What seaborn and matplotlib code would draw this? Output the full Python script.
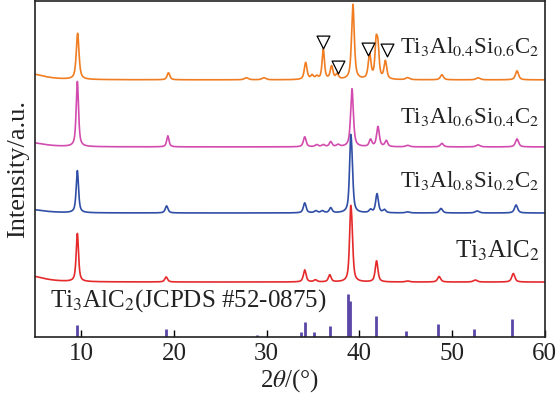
import numpy as np
import pandas as pd
import matplotlib
matplotlib.use("Agg")
import matplotlib.pyplot as plt
import seaborn as sns

# peak lists: (2theta, height above baseline, fwhm)
peaks_si06 = [(4.0, 7, 4.0), (9.6, 46, 0.35), (19.4, 7, 0.35), (27.8, 2, 0.5), (29.7, 2, 0.5),
              (34.2, 17, 0.35), (34.9, 4, 0.35), (35.4, 3, 0.35), (36.1, 30, 0.3), (37.0, 13, 0.35),
              (37.6, 5, 0.35), (39.3, 75, 0.35), (41.1, 25, 0.35), (41.8, 33, 0.3), (42.0, 28, 0.3),
              (42.8, 18, 0.35), (45.2, 2, 0.5), (48.9, 5, 0.4), (52.8, 2, 0.5), (57.0, 9, 0.4)]
peaks_si04 = [(4.0, 5, 4.0), (9.57, 65, 0.3), (19.33, 11, 0.3), (34.1, 10, 0.35), (35.4, 2, 0.4),
              (36.1, 2, 0.4), (36.9, 5, 0.35), (37.7, 2, 0.4), (39.2, 58, 0.35), (41.2, 7, 0.35),
              (42.0, 20, 0.35), (42.9, 6, 0.35), (45.2, 1.5, 0.5), (48.9, 3.5, 0.4), (52.8, 2, 0.5),
              (57.0, 8, 0.4)]
peaks_si02 = [(4.0, 4, 4.0), (9.57, 42, 0.3), (19.2, 7, 0.35), (34.1, 10, 0.35), (35.3, 2, 0.4),
              (36.0, 2, 0.4), (36.9, 5, 0.35), (39.05, 62, 0.3), (39.2, 30, 0.3), (41.2, 3, 0.35),
              (41.9, 19, 0.35), (42.7, 3, 0.35), (45.2, 1, 0.5), (48.8, 4.5, 0.4), (52.7, 2, 0.5),
              (56.9, 8, 0.4)]
peaks_al = [(4.0, 7, 4.0), (9.57, 48, 0.3), (19.15, 5, 0.35), (34.1, 12, 0.35), (35.25, 2, 0.4),
            (36.8, 7, 0.35), (39.05, 60, 0.3), (39.2, 30, 0.3), (41.85, 21, 0.35), (45.2, 1, 0.5),
            (48.6, 5.5, 0.4), (52.5, 2, 0.5), (56.6, 8.5, 0.4)]

# JCPDS #52-0875 reference lines
ref_pos = [9.5, 19.1, 28.9, 33.7, 34.1, 35.1, 36.8, 38.8, 39.0, 41.8, 45.0, 48.5, 52.4, 56.5]
ref_int = [12, 8, 2, 5, 15, 5, 11, 43, 36, 21, 6, 13, 8.5, 18]

# marked extra phase peaks on the top pattern
mark_pos = [36.05, 37.7, 40.9, 43.0]
mark_y = [295, 270, 288, 287]

names = ["Ti$_3$Al$_{0.4}$Si$_{0.6}$C$_2$", "Ti$_3$Al$_{0.6}$Si$_{0.4}$C$_2$",
         "Ti$_3$Al$_{0.8}$Si$_{0.2}$C$_2$", "Ti$_3$AlC$_2$"]
offsets = [257, 190, 124, 55]
colors = ["#F07D22", "#D24BAE", "#2F4EA6", "#E52A2C"]
label_y = [290, 220, 156, 86]
label_size = [16.5, 16.5, 16.5, 18]


def pattern(x, peaks):
    y = np.zeros_like(x)
    for c, h, w in peaks:
        d = (x - c) / (w / 2)
        y += h * (0.7 / (1 + d ** 2) + 0.3 * np.exp(-np.log(2) * d ** 2))
    return y


tt = np.arange(5, 60.001, 0.01)
frames = []
for name, pk, off in zip(names, [peaks_si06, peaks_si04, peaks_si02, peaks_al], offsets):
    frames.append(pd.DataFrame({"tt": tt, "I": pattern(tt, pk) + off, "sample": name}))
df = pd.concat(frames, ignore_index=True)

sns.set_theme(style="ticks")
plt.rcParams["font.family"] = ["Liberation Serif", "DejaVu Serif"]
plt.rcParams["mathtext.fontset"] = "stix"

fig = plt.figure(figsize=(5.59, 3.98), dpi=100)
ax = fig.add_axes([0.0626, 0.153, 0.912, 0.845])

sns.lineplot(data=df, x="tt", y="I", hue="sample", palette=dict(zip(names, colors)),
             linewidth=1.2, legend=False, ax=ax, estimator=None, sort=False)
ax.vlines(ref_pos, 0, ref_int, color="#5A46A6", linewidth=2.0)
ax.scatter(mark_pos, mark_y, marker="v", s=85, facecolors="white", edgecolors="black",
           linewidths=0.9, zorder=5)

for name, ly, fs in zip(names, label_y, label_size):
    ax.text(59.45, ly, name, ha="right", va="center", fontsize=fs, color="#222222")
ax.text(6.6, 36, "Ti$_3$AlC$_2$(JCPDS #52-0875)", ha="left", va="center", fontsize=18,
        color="#222222")

ax.set_xlim(5, 60)
ax.set_ylim(0, 336)
ax.set_xticks([10, 20, 30, 40, 50, 60])
ax.set_yticks([])
ax.tick_params(axis="x", direction="in", length=5, width=1, labelsize=18, pad=4,
               colors="black", labelcolor="#222222")
ax.set_xlabel(r"2$\theta$/(°)", fontsize=18, labelpad=2, color="#222222")
ax.set_ylabel("Intensity/a.u.", fontsize=19, labelpad=4, color="#222222")
for s in ax.spines.values():
    s.set_visible(True)
    s.set_linewidth(1.2)
    s.set_color("#222222")

fig.savefig("out.png", dpi=100)
